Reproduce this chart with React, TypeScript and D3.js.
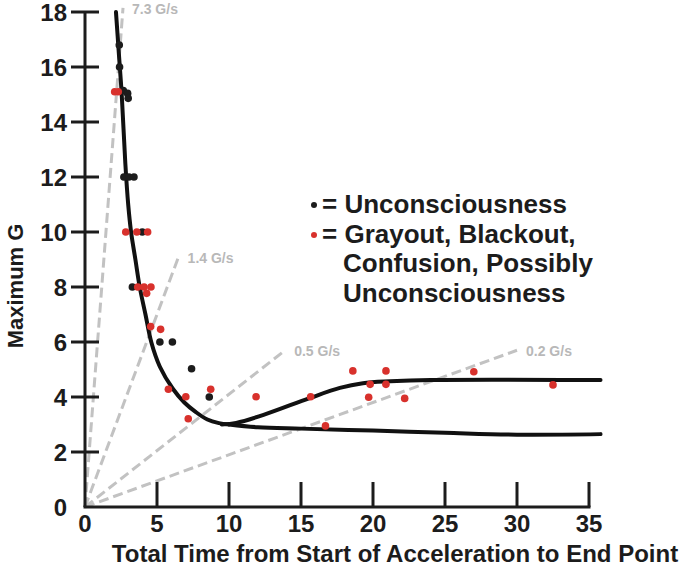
import React from 'react'
import * as d3 from 'd3'

// axis ticks
const xTicks = [0, 5, 10, 15, 20, 25, 30, 35]
const yTicks = [0, 2, 4, 6, 8, 10, 12, 14, 16, 18]

// onset-rate reference lines: [end time, end G, label]
const rateLines: [number, number, string][] = [
  [2.64, 18.15, '7.3 G/s'],
  [6.5, 9.1, '1.4 G/s'],
  [13.9, 5.7, '0.5 G/s'],
  [30.0, 5.7, '0.2 G/s'],
]

// fitted curves [time, G]
const steepCurve: [number, number][] = [
  [2.15, 18], [2.35, 16.5], [2.55, 15], [2.8, 12.5], [3.0, 11], [3.2, 10],
  [3.5, 9], [3.8, 8], [4.2, 7], [4.6, 6], [5.2, 5.1], [6.1, 4.3],
  [6.9, 3.8], [7.7, 3.45], [8.5, 3.18], [9.3, 3.05], [10, 3.0],
]
const lowerBranch: [number, number][] = [
  [10, 3.0], [12, 2.9], [15, 2.85], [20, 2.78], [25, 2.7], [30, 2.63], [35.8, 2.65],
]
const upperBranch: [number, number][] = [
  [9.5, 3.0], [10.5, 3.06], [12.4, 3.35], [15.6, 3.96], [17.7, 4.33],
  [19.3, 4.5], [21.2, 4.57], [24, 4.62], [35.8, 4.62],
]

// observations [time, G]
const unconsciousness: [number, number][] = [
  [2.38, 16.8], [2.4, 16.0],
  [2.66, 15.14], [2.96, 15.04], [3.0, 14.86],
  [2.7, 12], [3.05, 12], [3.4, 12],
  [3.98, 10], [3.29, 8],
  [5.2, 6], [6.07, 6], [7.4, 5.03], [8.63, 4.0],
]
const grayout: [number, number][] = [
  [2.06, 15.1], [2.31, 15.1],
  [2.83, 10], [3.6, 10], [4.35, 10],
  [3.66, 8], [4.1, 8], [4.58, 8], [4.28, 7.77],
  [4.56, 6.56], [5.25, 6.46],
  [5.79, 4.28], [7.0, 4.01], [8.73, 4.28], [7.17, 3.21],
  [11.88, 4.01], [15.67, 4.01], [18.6, 4.95], [20.9, 4.95], [19.8, 4.46],
  [20.9, 4.46], [19.7, 3.99], [22.2, 3.95], [16.7, 2.95],
  [27.0, 4.92], [32.5, 4.44],
]

const legendLines = [
  { text: '= Unconsciousness', dot: 'black' },
  { text: '= Grayout, Blackout,', dot: 'red' },
  { text: 'Confusion, Possibly', dot: null },
  { text: 'Unconsciousness', dot: null },
]

const W = 685
const H = 569
const font = '"Liberation Sans", Arial, Helvetica, sans-serif'
const ink = '#1c1c1c'
const red = '#d8312c'
const gray = '#c2c2c2'

export default function App() {
  const x = d3.scaleLinear().domain([0, 35]).range([85, 589])
  const y = d3.scaleLinear().domain([0, 18]).range([507, 12])

  const line = d3
    .line<[number, number]>()
    .x(d => x(d[0]))
    .y(d => y(d[1]))
    .curve(d3.curveCatmullRom.alpha(0.5))

  return (
    <svg
      width={W}
      height={H}
      style={{ position: 'absolute', left: 0, top: 0, background: '#fff' }}
      fontFamily={font}
      fontWeight="bold"
    >
      {/* rate lines */}
      {rateLines.map(([t, g, label]) => (
        <g key={label}>
          <line
            x1={x(0)}
            y1={y(0)}
            x2={x(t)}
            y2={y(g)}
            stroke={gray}
            strokeWidth={3}
            strokeDasharray="10 5"
          />
          <text x={x(t) + 9} y={y(g) + 6} fontSize={14} fill="#b8b8b8">
            {label}
          </text>
        </g>
      ))}

      {/* axes */}
      <line x1={x(0)} y1={y(0)} x2={x(0)} y2={y(18)} stroke={ink} strokeWidth={3} />
      <line x1={x(0) - 1.5} y1={y(0)} x2={x(35) + 1.5} y2={y(0)} stroke={ink} strokeWidth={3} />
      {yTicks.filter(v => v > 0).map(v => (
        <line key={v} x1={x(0) - 14} x2={x(0) + 14} y1={y(v)} y2={y(v)} stroke={ink} strokeWidth={3} />
      ))}
      {xTicks.filter(v => v > 0).map(v => (
        <line key={v} x1={x(v)} x2={x(v)} y1={y(0)} y2={y(0) - 25} stroke={ink} strokeWidth={3} />
      ))}
      {yTicks.map(v => (
        <text key={v} x={67} y={y(v) + 8.5} fontSize={24} textAnchor="end" fill={ink}>
          {v}
        </text>
      ))}
      {xTicks.map(v => (
        <text key={v} x={x(v)} y={532} fontSize={24} textAnchor="middle" fill={ink}>
          {v}
        </text>
      ))}
      <text x={395} y={562} fontSize={24} textAnchor="middle" fill={ink}>
        Total Time from Start of Acceleration to End Point
      </text>
      <text
        transform={`translate(23,${286}) rotate(-90)`}
        fontSize={22}
        textAnchor="middle"
        fill={ink}
      >
        Maximum G
      </text>

      {/* curves */}
      {[steepCurve, lowerBranch, upperBranch].map((c, i) => (
        <path key={i} d={line(c) ?? ''} fill="none" stroke="#111" strokeWidth={4} strokeLinecap="round" />
      ))}

      {/* points */}
      {unconsciousness.map((d, i) => (
        <circle key={'b' + i} cx={x(d[0])} cy={y(d[1])} r={3.8} fill={ink} />
      ))}
      {grayout.map((d, i) => (
        <circle key={'r' + i} cx={x(d[0])} cy={y(d[1])} r={3.8} fill={red} />
      ))}

      {/* legend */}
      {legendLines.map((l, i) => (
        <g key={i}>
          {l.dot && (
            <circle cx={314} cy={205 + i * 30} r={3} fill={l.dot === 'red' ? red : ink} />
          )}
          <text x={l.dot ? 322 : 343} y={213 + i * 29.5} fontSize={26} fill={ink}>
            {l.text}
          </text>
        </g>
      ))}
    </svg>
  )
}
